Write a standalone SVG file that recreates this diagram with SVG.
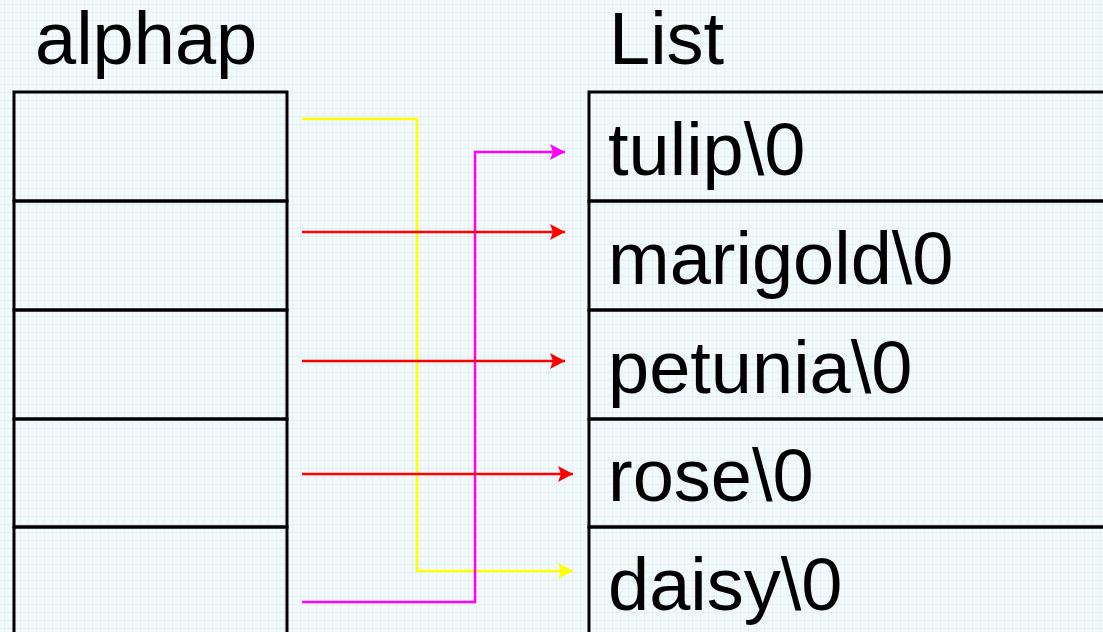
<svg xmlns="http://www.w3.org/2000/svg" width="1103" height="632" viewBox="0 0 1103 632">
  <defs>
    <pattern id="grid" width="8" height="8" patternUnits="userSpaceOnUse">
      <rect width="8" height="8" fill="#f2f9fb"/>
      <rect x="0" y="4" width="8" height="1" fill="#e4f0f4"/>
      <rect x="4" y="0" width="1" height="8" fill="#e4f0f4"/>
    </pattern>
    <marker id="ar" viewBox="0 0 15 16" refX="15" refY="8" markerWidth="15" markerHeight="16" markerUnits="userSpaceOnUse" orient="auto">
      <path d="M0,0 L15,8 L0,16 L3,8 Z" fill="#ff0000"/>
    </marker>
    <marker id="ay" viewBox="0 0 15 16" refX="15" refY="8" markerWidth="15" markerHeight="16" markerUnits="userSpaceOnUse" orient="auto">
      <path d="M0,0 L15,8 L0,16 L3,8 Z" fill="#ffff00"/>
    </marker>
    <marker id="am" viewBox="0 0 15 16" refX="15" refY="8" markerWidth="15" markerHeight="16" markerUnits="userSpaceOnUse" orient="auto">
      <path d="M0,0 L15,8 L0,16 L3,8 Z" fill="#ff00ff"/>
    </marker>
  </defs>
  <style>
    .cell { fill: none; stroke: #000; stroke-width: 3; }
    .t { font-family: "Liberation Sans", Arial, sans-serif; font-size: 74px; fill: #000; }
    .c { fill: none; stroke-width: 2.5; }
  </style>
  <rect width="1103" height="632" fill="url(#grid)"/>

  <text class="t" x="35" y="64">alphap</text>
  <text class="t" x="609" y="64">List</text>

  <g id="alphap">
    <rect class="cell" x="14" y="92" width="273" height="109"/>
    <rect class="cell" x="14" y="201" width="273" height="109"/>
    <rect class="cell" x="14" y="310" width="273" height="109"/>
    <rect class="cell" x="14" y="419" width="273" height="108"/>
    <rect class="cell" x="14" y="527" width="273" height="120"/>
  </g>

  <g id="list">
    <g id="tulip"><rect class="cell" x="589" y="92" width="530" height="109"/><text class="t" x="608" y="175">tulip\0</text></g>
    <g id="marigold"><rect class="cell" x="589" y="201" width="530" height="109"/><text class="t" x="608" y="284">marigold\0</text></g>
    <g id="petunia"><rect class="cell" x="589" y="310" width="530" height="109"/><text class="t" x="608" y="393">petunia\0</text></g>
    <g id="rose"><rect class="cell" x="589" y="419" width="530" height="108"/><text class="t" x="608" y="501">rose\0</text></g>
    <g id="daisy"><rect class="cell" x="589" y="527" width="530" height="120"/><text class="t" x="608" y="610">daisy\0</text></g>
  </g>

  <g id="connectors">
    <path class="c" stroke="#ffff00" d="M302,119 H417 V571 H573" marker-end="url(#ay)"/>
    <path class="c" stroke="#ff00ff" d="M302,602 H475 V152 H565" marker-end="url(#am)"/>
    <path class="c" stroke="#ff0000" d="M302,232 H565" marker-end="url(#ar)"/>
    <path class="c" stroke="#ff0000" d="M302,361 H565" marker-end="url(#ar)"/>
    <path class="c" stroke="#ff0000" d="M302,474 H573" marker-end="url(#ar)"/>
  </g>
</svg>
